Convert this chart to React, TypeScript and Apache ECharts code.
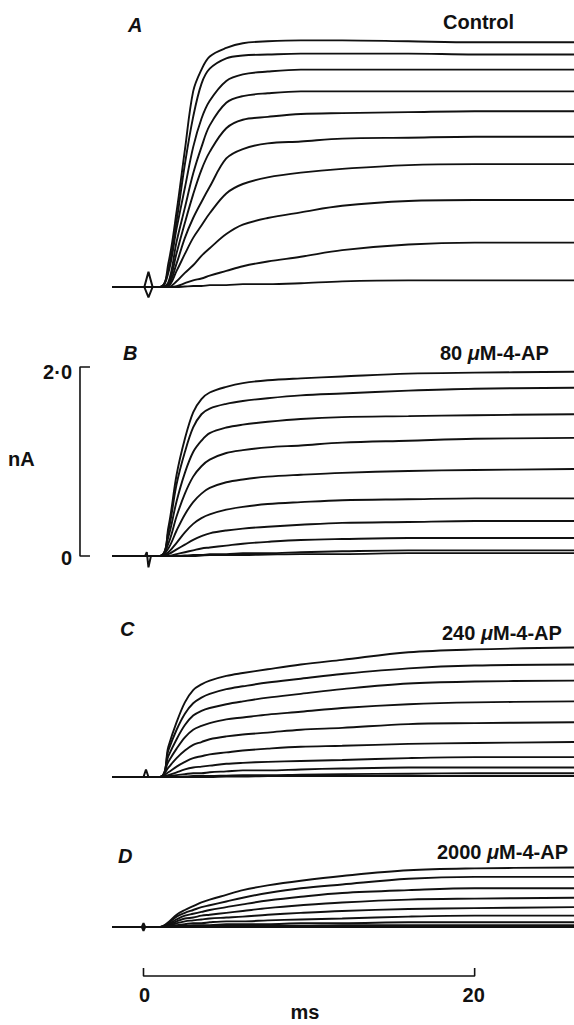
import React, { useEffect, useRef } from "react";
import * as echarts from "echarts";

// ---- data ----
const TIME_MS = [-1.9, 1.0, 1.5, 2.0, 2.5, 3.0, 3.5, 4.0, 5.0, 6.0, 7.5, 9.5, 12, 16, 20, 26];

const CONTROL_TRACES = [
  [0, 0, 0.25, 0.80, 1.45, 2.07, 2.30, 2.44, 2.53, 2.58, 2.60, 2.61, 2.61, 2.60, 2.59, 2.59],
  [0, 0, 0.18, 0.70, 1.30, 1.80, 2.15, 2.31, 2.42, 2.45, 2.46, 2.47, 2.47, 2.47, 2.46, 2.46],
  [0, 0, 0.15, 0.62, 1.05, 1.48, 1.78, 1.97, 2.18, 2.25, 2.28, 2.30, 2.30, 2.30, 2.30, 2.30],
  [0, 0, 0.05, 0.48, 0.84, 1.20, 1.48, 1.71, 1.95, 2.02, 2.05, 2.07, 2.07, 2.07, 2.07, 2.07],
  [0, 0, 0.03, 0.36, 0.68, 0.98, 1.24, 1.43, 1.68, 1.77, 1.80, 1.83, 1.84, 1.85, 1.86, 1.86],
  [0, 0, 0.02, 0.25, 0.52, 0.73, 0.90, 1.06, 1.36, 1.46, 1.52, 1.54, 1.57, 1.58, 1.59, 1.59],
  [0, 0, 0.01, 0.17, 0.35, 0.52, 0.65, 0.78, 0.99, 1.09, 1.16, 1.21, 1.25, 1.29, 1.30, 1.30],
  [0, 0, 0, 0.06, 0.15, 0.23, 0.33, 0.41, 0.56, 0.66, 0.73, 0.79, 0.86, 0.91, 0.92, 0.92],
  [0, 0, 0, 0.01, 0.04, 0.07, 0.09, 0.12, 0.17, 0.22, 0.27, 0.32, 0.39, 0.45, 0.47, 0.47],
  [0, 0, 0, 0, 0.005, 0.01, 0.01, 0.02, 0.02, 0.03, 0.03, 0.04, 0.06, 0.07, 0.07, 0.07],
];

const AP80_TRACES = [
  [0, 0, 0.30, 0.86, 1.24, 1.52, 1.66, 1.73, 1.79, 1.83, 1.86, 1.88, 1.90, 1.93, 1.94, 1.95],
  [0, 0, 0.26, 0.76, 1.10, 1.36, 1.50, 1.56, 1.61, 1.64, 1.67, 1.70, 1.72, 1.75, 1.77, 1.78],
  [0, 0, 0.20, 0.58, 0.88, 1.10, 1.22, 1.30, 1.36, 1.39, 1.42, 1.45, 1.47, 1.48, 1.49, 1.50],
  [0, 0, 0.13, 0.42, 0.66, 0.84, 0.95, 1.02, 1.09, 1.12, 1.15, 1.17, 1.20, 1.22, 1.24, 1.25],
  [0, 0, 0.08, 0.27, 0.44, 0.57, 0.66, 0.72, 0.78, 0.81, 0.84, 0.86, 0.88, 0.90, 0.91, 0.92],
  [0, 0, 0.04, 0.14, 0.25, 0.34, 0.40, 0.44, 0.49, 0.52, 0.55, 0.57, 0.59, 0.60, 0.61, 0.61],
  [0, 0, 0.02, 0.07, 0.12, 0.17, 0.21, 0.24, 0.27, 0.29, 0.31, 0.33, 0.35, 0.36, 0.37, 0.37],
  [0, 0, 0, 0.02, 0.04, 0.06, 0.08, 0.09, 0.11, 0.13, 0.15, 0.17, 0.18, 0.19, 0.19, 0.19],
  [0, 0, 0, 0, 0.005, 0.01, 0.01, 0.02, 0.02, 0.03, 0.03, 0.04, 0.05, 0.06, 0.06, 0.06],
  [0, 0, 0, 0, 0, 0, 0.005, 0.01, 0.01, 0.01, 0.015, 0.02, 0.02, 0.03, 0.03, 0.03],
];

const AP240_TRACES = [
  [0, 0, 0.32, 0.58, 0.79, 0.92, 0.98, 1.02, 1.07, 1.10, 1.14, 1.19, 1.24, 1.32, 1.35, 1.37],
  [0, 0, 0.28, 0.50, 0.67, 0.78, 0.84, 0.88, 0.93, 0.96, 1.00, 1.04, 1.09, 1.15, 1.18, 1.19],
  [0, 0, 0.22, 0.40, 0.55, 0.65, 0.70, 0.73, 0.77, 0.80, 0.84, 0.88, 0.93, 0.99, 1.01, 1.02],
  [0, 0, 0.16, 0.30, 0.42, 0.50, 0.54, 0.57, 0.61, 0.63, 0.66, 0.69, 0.73, 0.77, 0.79, 0.80],
  [0, 0, 0.10, 0.20, 0.28, 0.34, 0.37, 0.40, 0.43, 0.45, 0.47, 0.50, 0.52, 0.56, 0.57, 0.58],
  [0, 0, 0.05, 0.11, 0.16, 0.20, 0.22, 0.24, 0.26, 0.28, 0.30, 0.32, 0.33, 0.35, 0.36, 0.37],
  [0, 0, 0.02, 0.05, 0.08, 0.10, 0.11, 0.12, 0.14, 0.15, 0.16, 0.17, 0.18, 0.20, 0.21, 0.21],
  [0, 0, 0.01, 0.02, 0.03, 0.04, 0.04, 0.05, 0.06, 0.07, 0.07, 0.08, 0.09, 0.10, 0.10, 0.10],
  [0, 0, 0, 0, 0.005, 0.01, 0.01, 0.01, 0.015, 0.02, 0.02, 0.025, 0.03, 0.035, 0.04, 0.04],
  [0, 0, 0, 0, 0, 0, 0, 0, 0.005, 0.005, 0.01, 0.01, 0.01, 0.01, 0.01, 0.01],
];

const AP2000_TRACES = [
  [0, 0, 0.05, 0.13, 0.18, 0.22, 0.26, 0.29, 0.34, 0.39, 0.44, 0.49, 0.54, 0.60, 0.62, 0.63],
  [0, 0, 0.04, 0.11, 0.15, 0.18, 0.21, 0.23, 0.27, 0.31, 0.36, 0.41, 0.45, 0.51, 0.53, 0.53],
  [0, 0, 0.03, 0.08, 0.12, 0.14, 0.16, 0.18, 0.21, 0.24, 0.28, 0.32, 0.36, 0.39, 0.41, 0.41],
  [0, 0, 0.02, 0.06, 0.09, 0.10, 0.12, 0.13, 0.15, 0.17, 0.20, 0.23, 0.26, 0.29, 0.30, 0.31],
  [0, 0, 0.015, 0.04, 0.06, 0.07, 0.08, 0.09, 0.10, 0.11, 0.13, 0.15, 0.17, 0.19, 0.20, 0.21],
  [0, 0, 0.01, 0.02, 0.03, 0.04, 0.04, 0.05, 0.06, 0.06, 0.07, 0.08, 0.09, 0.11, 0.12, 0.12],
  [0, 0, 0, 0.01, 0.01, 0.02, 0.02, 0.02, 0.03, 0.03, 0.03, 0.04, 0.04, 0.05, 0.05, 0.05],
  [0, 0, 0, 0, 0.005, 0.005, 0.01, 0.01, 0.01, 0.01, 0.015, 0.015, 0.02, 0.02, 0.02, 0.02],
  [0, 0, 0, 0, 0, 0, 0, 0.005, 0.005, 0.005, 0.01, 0.01, 0.01, 0.01, 0.01, 0.01],
  [0, 0, 0, 0, 0, 0, 0, 0, 0, 0, 0, 0, 0, 0, 0, 0],
];

// stimulus artefacts (time ms, current nA)
const ARTIFACT_A_T = [0.05, 0.3, 0.55, 0.3, 0.05];
const ARTIFACT_A_V = [0, 0.16, 0, -0.11, 0];
const ARTIFACT_B_T = [0.1, 0.2, 0.3, 0.45];
const ARTIFACT_B_V = [0, 0.04, -0.12, 0];
const ARTIFACT_C_T = [0.0, 0.15, 0.3];
const ARTIFACT_C_V = [0, 0.08, 0];
const ARTIFACT_D_T = [-0.1, 0, 0.1, 0, -0.1];
const ARTIFACT_D_V = [0, 0.04, 0, -0.04, 0];

// scale bars
const CURRENT_BAR_NA = [0, 2.0];
const CURRENT_BAR_LABELS = ["0", "2·0"];
const TIME_BAR_MS = [0, 20];
const TIME_BAR_LABELS = ["0", "20"];

const PANEL_LETTERS = ["A", "B", "C", "D"];
const PANEL_TITLES = ["Control", "80 {mu|μ}M-4-AP", "240 {mu|μ}M-4-AP", "2000 {mu|μ}M-4-AP"];

// ---- layout ----
const W = 574;
const H = 1025;
const X_MIN = -8.666;
const X_MAX = 26;
const PX_PER_MS = W / (X_MAX - X_MIN);
const PX_PER_NA = 94.5;
const BASELINES = [287, 556, 777, 927];
const Y_MAX = [2.8, 2.2, 1.6, 0.8];
const Y_MIN = [-0.3, -0.3, -0.3, -0.7];
const xPx = (t: number) => (t - X_MIN) * PX_PER_MS;

const FONT = "Liberation Sans, Arial, Helvetica, sans-serif";
const INK = "#111";

export default function App() {
  const ref = useRef<HTMLDivElement>(null);

  useEffect(() => {
    if (!ref.current) return;
    const chart = echarts.init(ref.current, undefined, { renderer: "svg" });

    const grids = BASELINES.map((b, i) => ({
      left: 0,
      width: W,
      top: b - Y_MAX[i] * PX_PER_NA,
      height: (Y_MAX[i] - Y_MIN[i]) * PX_PER_NA,
      containLabel: false,
    }));
    const xAxes = BASELINES.map((_, i) => ({
      type: "value",
      gridIndex: i,
      min: X_MIN,
      max: X_MAX,
      show: false,
    }));
    const yAxes = BASELINES.map((_, i) => ({
      type: "value",
      gridIndex: i,
      min: Y_MIN[i],
      max: Y_MAX[i],
      show: false,
    }));

    const panels = [CONTROL_TRACES, AP80_TRACES, AP240_TRACES, AP2000_TRACES];
    const artifacts = [
      [ARTIFACT_A_T, ARTIFACT_A_V],
      [ARTIFACT_B_T, ARTIFACT_B_V],
      [ARTIFACT_C_T, ARTIFACT_C_V],
      [ARTIFACT_D_T, ARTIFACT_D_V],
    ];

    const series: any[] = [];
    panels.forEach((traces, p) => {
      traces.forEach((tr) => {
        series.push({
          type: "line",
          xAxisIndex: p,
          yAxisIndex: p,
          data: TIME_MS.map((t, k) => [t, tr[k]]),
          showSymbol: false,
          smooth: 0.35,
          silent: true,
          lineStyle: { color: INK, width: 1.9 },
        });
      });
      const [at, av] = artifacts[p];
      series.push({
        type: "line",
        xAxisIndex: p,
        yAxisIndex: p,
        data: at.map((t, k) => [t, av[k]]),
        showSymbol: false,
        silent: true,
        lineStyle: { color: INK, width: 2 },
      });
    });

    // current scale bar (panel B)
    const barT = -3.835;
    const tickT = barT + 10 / PX_PER_MS;
    series.push({
      type: "line",
      xAxisIndex: 1,
      yAxisIndex: 1,
      data: [
        [tickT, CURRENT_BAR_NA[1]],
        [barT, CURRENT_BAR_NA[1]],
        [barT, CURRENT_BAR_NA[0]],
        [tickT, CURRENT_BAR_NA[0]],
      ],
      showSymbol: false,
      silent: true,
      lineStyle: { color: INK, width: 1.6 },
    });

    // time scale bar (below panel D)
    const barY = -(976 - BASELINES[3]) / PX_PER_NA;
    const tickY = barY + 8 / PX_PER_NA;
    series.push({
      type: "line",
      xAxisIndex: 3,
      yAxisIndex: 3,
      data: [
        [TIME_BAR_MS[0], tickY],
        [TIME_BAR_MS[0], barY],
        [TIME_BAR_MS[1], barY],
        [TIME_BAR_MS[1], tickY],
      ],
      showSymbol: false,
      silent: true,
      lineStyle: { color: INK, width: 1.6 },
    });

    const txt = (text: string, x: number, y: number, align: string, italic = false) => ({
      type: "text",
      x,
      y,
      silent: true,
      style: {
        text,
        fill: INK,
        font: `${italic ? "italic " : ""}bold 20px ${FONT}`,
        textAlign: align,
        textVerticalAlign: "middle",
        rich: {
          mu: { fontStyle: "italic", fontWeight: "bold", fontSize: 20, fontFamily: FONT, fill: INK },
        },
      },
    });

    const letterPos = [
      [128, 25],
      [123, 353],
      [120, 629],
      [118, 856],
    ];
    const titlePos = [
      [443, 22],
      [440, 353],
      [442, 633],
      [437, 852],
    ];
    const graphics: any[] = [];
    PANEL_LETTERS.forEach((l, i) => graphics.push(txt(l, letterPos[i][0], letterPos[i][1], "left", true)));
    PANEL_TITLES.forEach((l, i) => graphics.push(txt(l, titlePos[i][0], titlePos[i][1], "left")));
    graphics.push(txt(CURRENT_BAR_LABELS[1], 72, BASELINES[1] - CURRENT_BAR_NA[1] * PX_PER_NA + 5, "right"));
    graphics.push(txt(CURRENT_BAR_LABELS[0], 72, BASELINES[1] + 2, "right"));
    graphics.push(txt("nA", 8, 459, "left"));
    graphics.push(txt(TIME_BAR_LABELS[0], xPx(TIME_BAR_MS[0]) + 1, 995, "center"));
    graphics.push(txt(TIME_BAR_LABELS[1], xPx(TIME_BAR_MS[1]) - 1, 995, "center"));
    graphics.push(txt("ms", 305, 1012, "center"));

    chart.setOption({
      animation: false,
      backgroundColor: "#fff",
      grid: grids,
      xAxis: xAxes,
      yAxis: yAxes,
      series,
      graphic: graphics,
    });

    return () => chart.dispose();
  }, []);

  return (
    <div
      ref={ref}
      style={{ position: "absolute", left: 0, top: 0, width: W, height: H, background: "#fff" }}
    />
  );
}
